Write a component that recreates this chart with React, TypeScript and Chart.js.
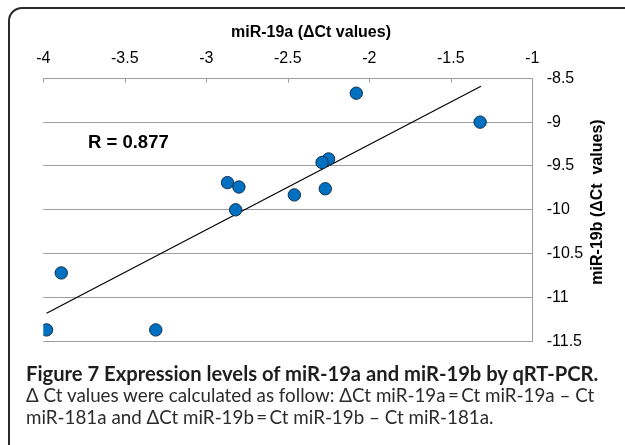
import React, { useEffect, useRef } from "react";
import { Chart, registerables } from "chart.js";

Chart.register(...registerables);

// miR-19a (x) and miR-19b (y) ΔCt values, one entry per sample
const mir19a = [-2.08, -1.32, -2.25, -2.29, -2.87, -2.8, -2.46, -2.27, -2.82, -3.89, -3.98, -3.31];
const mir19b = [-8.67, -9.0, -9.42, -9.46, -9.69, -9.74, -9.83, -9.76, -10.0, -10.72, -11.37, -11.37];

// linear trend line end points
const trendX = [-3.98, -1.315];
const trendY = [-11.18, -8.59];

const xTicks = [-4, -3.5, -3, -2.5, -2, -1.5, -1];
const yTicks = [-11.5, -11, -10.5, -10, -9.5, -9, -8.5];

const xTitle = "miR-19a (\u0394Ct values)";
const yTitle = "miR-19b (\u0394Ct  values)";
const rLabel = "R = 0.877";

const captionBold = "Figure 7 Expression levels of miR-19a and miR-19b by qRT-PCR.";
const captionLines = [
  "\u0394 Ct values were calculated as follow: \u0394Ct miR-19a\u2009=\u2009Ct miR-19a \u2013 Ct",
  "miR-181a and \u0394Ct miR-19b\u2009=\u2009Ct miR-19b \u2013 Ct miR-181a.",
];

const AXIS_FONT = '"Liberation Sans", Arial, sans-serif';
const GRID = "#9e9e9e";

const decor = {
  id: "decor",
  afterDraw(chart: any) {
    const ctx = chart.ctx as CanvasRenderingContext2D;
    const xs = chart.scales.x;
    const ca = chart.chartArea;
    ctx.save();
    // inward tick marks on the top axis
    ctx.strokeStyle = GRID;
    ctx.lineWidth = 1;
    xs.ticks.forEach((t: any) => {
      const px = Math.round(xs.getPixelForValue(t.value)) + 0.5;
      ctx.beginPath();
      ctx.moveTo(px, ca.top);
      ctx.lineTo(px, ca.top + 4.5);
      ctx.stroke();
    });
    // axis titles
    ctx.fillStyle = "#000";
    ctx.font = `bold 16px ${AXIS_FONT}`;
    ctx.textAlign = "center";
    ctx.textBaseline = "middle";
    ctx.fillText(xTitle, 311, 33);
    // R label
    ctx.textAlign = "left";
    ctx.font = `bold 18.5px ${AXIS_FONT}`;
    ctx.fillText(rLabel, 88, 143);
    // rotated y title
    ctx.font = `bold 16px ${AXIS_FONT}`;
    ctx.textAlign = "center";
    ctx.translate(598, 202);
    ctx.rotate(-Math.PI / 2);
    ctx.fillText(yTitle, 0, 0);
    ctx.restore();
  },
};

export default function App() {
  const ref = useRef<HTMLCanvasElement | null>(null);

  useEffect(() => {
    if (!ref.current) return;
    const points = mir19a.map((x, i) => ({ x, y: mir19b[i] }));
    const trend = trendX.map((x, i) => ({ x, y: trendY[i] }));
    const chart = new Chart(ref.current, {
      type: "scatter",
      data: {
        datasets: [
          {
            data: points,
            backgroundColor: "#0070C0",
            borderColor: "#14304f",
            borderWidth: 1,
            pointRadius: 6.2,
            order: 1,
          } as any,
          {
            type: "line",
            data: trend,
            borderColor: "#000",
            borderWidth: 1.2,
            pointRadius: 0,
            fill: false,
            order: 2,
          } as any,
        ],
      },
      options: {
        responsive: false,
        animation: false,
        devicePixelRatio: 1,
        layout: { padding: { left: 43.3, top: 0, right: 0, bottom: 445 - 341.3 } },
        plugins: { legend: { display: false }, tooltip: { enabled: false }, title: { display: false } },
        scales: {
          x: {
            type: "linear",
            position: "top",
            min: -4,
            max: -1,
            afterBuildTicks: (s: any) => {
              s.ticks = xTicks.map((v) => ({ value: v }));
            },
            afterFit: (s: any) => {
              s.height = 78.3;
            },
            grid: { drawOnChartArea: false, drawTicks: false },
            border: { display: true, color: GRID, width: 1 },
            ticks: {
              padding: 10.5,
              color: "#000",
              font: { family: AXIS_FONT, size: 16 },
              maxRotation: 0,
              callback: (v: any) => String(v),
            },
          },
          y: {
            type: "linear",
            position: "right",
            min: -11.5,
            max: -8.5,
            afterBuildTicks: (s: any) => {
              s.ticks = yTicks.map((v) => ({ value: v }));
            },
            afterFit: (s: any) => {
              s.width = 625 - 532.3;
            },
            grid: { color: GRID, lineWidth: 1, drawTicks: false },
            border: { display: true, color: GRID, width: 1 },
            ticks: {
              padding: 14.4,
              color: "#000",
              font: { family: AXIS_FONT, size: 16 },
              callback: (v: any) => String(v),
            },
          },
        },
      },
      plugins: [decor],
    });
    return () => chart.destroy();
  }, []);

  return (
    <div
      style={{
        position: "fixed",
        left: 0,
        top: 0,
        width: 625,
        height: 445,
        overflow: "hidden",
        background: "#fff",
      }}
    >
      <div
        style={{
          position: "absolute",
          left: 8,
          top: 7,
          width: 700,
          height: 500,
          border: "2px solid #2a2a2a",
          borderRadius: 14,
          boxSizing: "border-box",
        }}
      />
      <canvas
        ref={ref}
        width={625}
        height={445}
        style={{ position: "absolute", left: 0, top: 0, width: 625, height: 445 }}
      />
      <div
        style={{
          position: "absolute",
          left: 26,
          top: 362,
          fontFamily: "Lato, 'Open Sans', sans-serif",
          whiteSpace: "nowrap",
          color: "#2b2b2b",
        }}
      >
        <div style={{ fontWeight: 700, fontSize: 20.2, lineHeight: "22px", color: "#1e1e1e" }}>{captionBold}</div>
        {captionLines.map((l, i) => (
          <div key={i} style={{ fontWeight: 400, fontSize: 18.8, lineHeight: "22px" }}>
            {l}
          </div>
        ))}
      </div>
    </div>
  );
}
